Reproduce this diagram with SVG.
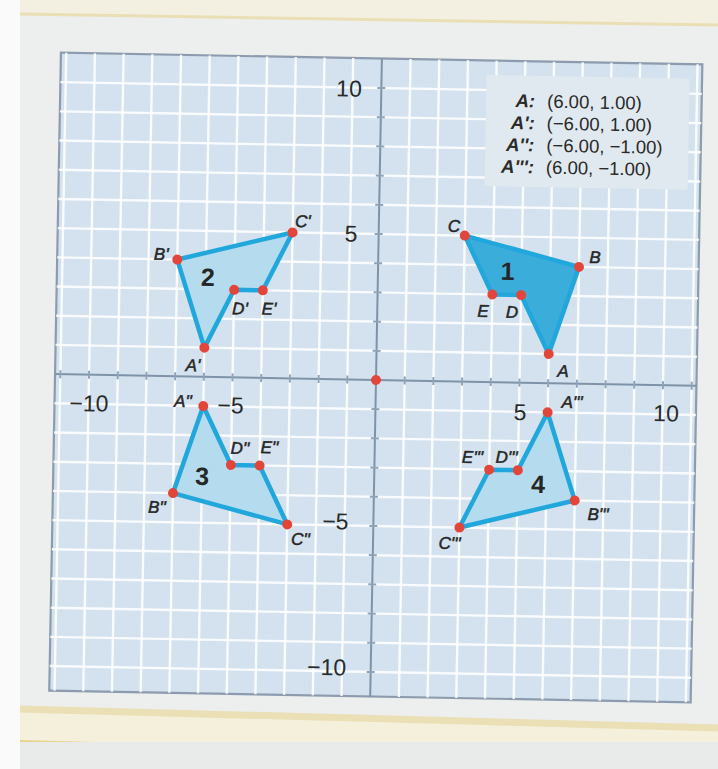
<svg xmlns="http://www.w3.org/2000/svg" width="718" height="769" viewBox="0 0 718 769">
<style>
.grid line{stroke:#ffffff;stroke-width:2.4;stroke-opacity:0.85}
.tick line{stroke:#8fa3b8;stroke-width:2}
.axis{stroke:#7f93a8;stroke-width:2}
.fig{stroke:#22a7dd;stroke-width:4.5;stroke-linejoin:round}
.light{fill:#b5dcee}
.dark{fill:#3badda}
.dot{fill:#e2463a}
.vl{font-family:"Liberation Sans",Arial,sans-serif;font-size:17px;font-style:italic;fill:#262626;stroke:#262626;stroke-width:0.5;text-anchor:middle}
.num{font-family:"Liberation Sans",Arial,sans-serif;font-size:25px;font-weight:bold;fill:#262626;text-anchor:middle}
.ax{font-family:"Liberation Sans",Arial,sans-serif;font-size:23px;fill:#2a2a2a;text-anchor:middle}
.lg{font-family:"Liberation Sans",Arial,sans-serif;font-size:18.5px;fill:#2a2a2a}
.lgb{font-weight:bold;font-style:italic;text-anchor:end}
</style>
<rect x="0" y="0" width="718" height="769" fill="#fafafa"/>
<rect x="20" y="0" width="698" height="769" fill="#edeeee"/>
<polygon points="20,0 718,0 718,24 20,13" fill="#f3f0e2"/>
<line x1="20" y1="14" x2="718" y2="25" stroke="#eadfb4" stroke-width="3"/>
<polygon points="20,708 718,727 718,760 20,741" fill="#f4f0dc"/>
<line x1="20" y1="709" x2="718" y2="728" stroke="#ebdfb5" stroke-width="7"/>
<line x1="20" y1="741" x2="718" y2="760" stroke="#e6d38e" stroke-width="2"/>
<rect x="20" y="742" width="698" height="27" fill="#e9eaea"/>
<g transform="translate(376 380) rotate(1.05)">
<rect x="-321" y="-321.5" width="641.5" height="638" fill="#d3e2ee" stroke="#8c9cae" stroke-width="2.2"/>
<g class="grid">
<line x1="-315.7" y1="-321.5" x2="-315.7" y2="316.5"/><line x1="-287" y1="-321.5" x2="-287" y2="316.5"/><line x1="-258.3" y1="-321.5" x2="-258.3" y2="316.5"/><line x1="-229.6" y1="-321.5" x2="-229.6" y2="316.5"/><line x1="-200.9" y1="-321.5" x2="-200.9" y2="316.5"/><line x1="-172.2" y1="-321.5" x2="-172.2" y2="316.5"/><line x1="-143.5" y1="-321.5" x2="-143.5" y2="316.5"/><line x1="-114.8" y1="-321.5" x2="-114.8" y2="316.5"/><line x1="-86.1" y1="-321.5" x2="-86.1" y2="316.5"/><line x1="-57.4" y1="-321.5" x2="-57.4" y2="316.5"/><line x1="-28.7" y1="-321.5" x2="-28.7" y2="316.5"/>
<line x1="28.7" y1="-321.5" x2="28.7" y2="316.5"/><line x1="57.4" y1="-321.5" x2="57.4" y2="316.5"/><line x1="86.1" y1="-321.5" x2="86.1" y2="316.5"/><line x1="114.8" y1="-321.5" x2="114.8" y2="316.5"/><line x1="143.5" y1="-321.5" x2="143.5" y2="316.5"/><line x1="172.2" y1="-321.5" x2="172.2" y2="316.5"/><line x1="200.9" y1="-321.5" x2="200.9" y2="316.5"/><line x1="229.6" y1="-321.5" x2="229.6" y2="316.5"/><line x1="258.3" y1="-321.5" x2="258.3" y2="316.5"/><line x1="287" y1="-321.5" x2="287" y2="316.5"/><line x1="315.7" y1="-321.5" x2="315.7" y2="316.5"/>
<line x1="-321" y1="-292" x2="320.5" y2="-292"/><line x1="-321" y1="-262.8" x2="320.5" y2="-262.8"/><line x1="-321" y1="-233.6" x2="320.5" y2="-233.6"/><line x1="-321" y1="-204.4" x2="320.5" y2="-204.4"/><line x1="-321" y1="-175.2" x2="320.5" y2="-175.2"/><line x1="-321" y1="-146" x2="320.5" y2="-146"/><line x1="-321" y1="-116.8" x2="320.5" y2="-116.8"/><line x1="-321" y1="-87.6" x2="320.5" y2="-87.6"/><line x1="-321" y1="-58.4" x2="320.5" y2="-58.4"/><line x1="-321" y1="-29.2" x2="320.5" y2="-29.2"/>
<line x1="-321" y1="29.2" x2="320.5" y2="29.2"/><line x1="-321" y1="58.4" x2="320.5" y2="58.4"/><line x1="-321" y1="87.6" x2="320.5" y2="87.6"/><line x1="-321" y1="116.8" x2="320.5" y2="116.8"/><line x1="-321" y1="146" x2="320.5" y2="146"/><line x1="-321" y1="175.2" x2="320.5" y2="175.2"/><line x1="-321" y1="204.4" x2="320.5" y2="204.4"/><line x1="-321" y1="233.6" x2="320.5" y2="233.6"/><line x1="-321" y1="262.8" x2="320.5" y2="262.8"/><line x1="-321" y1="292" x2="320.5" y2="292"/>
</g>
<rect id="legend-box" x="105" y="-307" width="203" height="111" fill="#e1e9f0"/>
<g id="axes">
<line class="axis" x1="-321" y1="0" x2="320.5" y2="0"/>
<line class="axis" x1="0" y1="-321.5" x2="0" y2="316.5"/>
<g class="tick">
<line x1="-315.7" y1="-4" x2="-315.7" y2="4"/><line x1="-287" y1="-4" x2="-287" y2="4"/><line x1="-258.3" y1="-4" x2="-258.3" y2="4"/><line x1="-229.6" y1="-4" x2="-229.6" y2="4"/><line x1="-200.9" y1="-4" x2="-200.9" y2="4"/><line x1="-172.2" y1="-4" x2="-172.2" y2="4"/><line x1="-143.5" y1="-4" x2="-143.5" y2="4"/><line x1="-114.8" y1="-4" x2="-114.8" y2="4"/><line x1="-86.1" y1="-4" x2="-86.1" y2="4"/><line x1="-57.4" y1="-4" x2="-57.4" y2="4"/><line x1="-28.7" y1="-4" x2="-28.7" y2="4"/>
<line x1="28.7" y1="-4" x2="28.7" y2="4"/><line x1="57.4" y1="-4" x2="57.4" y2="4"/><line x1="86.1" y1="-4" x2="86.1" y2="4"/><line x1="114.8" y1="-4" x2="114.8" y2="4"/><line x1="143.5" y1="-4" x2="143.5" y2="4"/><line x1="172.2" y1="-4" x2="172.2" y2="4"/><line x1="200.9" y1="-4" x2="200.9" y2="4"/><line x1="229.6" y1="-4" x2="229.6" y2="4"/><line x1="258.3" y1="-4" x2="258.3" y2="4"/><line x1="287" y1="-4" x2="287" y2="4"/><line x1="315.7" y1="-4" x2="315.7" y2="4"/>
<line x1="-4" y1="-292" x2="4" y2="-292"/><line x1="-4" y1="-262.8" x2="4" y2="-262.8"/><line x1="-4" y1="-233.6" x2="4" y2="-233.6"/><line x1="-4" y1="-204.4" x2="4" y2="-204.4"/><line x1="-4" y1="-175.2" x2="4" y2="-175.2"/><line x1="-4" y1="-146" x2="4" y2="-146"/><line x1="-4" y1="-116.8" x2="4" y2="-116.8"/><line x1="-4" y1="-87.6" x2="4" y2="-87.6"/><line x1="-4" y1="-58.4" x2="4" y2="-58.4"/><line x1="-4" y1="-29.2" x2="4" y2="-29.2"/>
<line x1="-4" y1="29.2" x2="4" y2="29.2"/><line x1="-4" y1="58.4" x2="4" y2="58.4"/><line x1="-4" y1="87.6" x2="4" y2="87.6"/><line x1="-4" y1="116.8" x2="4" y2="116.8"/><line x1="-4" y1="146" x2="4" y2="146"/><line x1="-4" y1="175.2" x2="4" y2="175.2"/><line x1="-4" y1="204.4" x2="4" y2="204.4"/><line x1="-4" y1="233.6" x2="4" y2="233.6"/><line x1="-4" y1="262.8" x2="4" y2="262.8"/><line x1="-4" y1="292" x2="4" y2="292"/>
</g>
<text class="ax" x="-32.3" y="-283">10</text>
<text class="ax" x="-27.7" y="-138">5</text>
<text class="ax" x="-38" y="150">−5</text>
<text class="ax" x="-44" y="296">−10</text>
<text class="ax" x="-286.6" y="36.5">−10</text>
<text class="ax" x="-145" y="36">−5</text>
<text class="ax" x="144.6" y="37.5">5</text>
<text class="ax" x="290.6" y="36">10</text>
<circle class="dot" cx="0" cy="0" r="5"/>
</g>
<g id="figure1">
<polygon class="fig dark" points="172.2,-29.2 200.9,-116.8 86.1,-146 114.8,-87.6 143.5,-87.6"/>
<circle class="dot" cx="172.2" cy="-29.2" r="5"/><circle class="dot" cx="200.9" cy="-116.8" r="5"/><circle class="dot" cx="86.1" cy="-146" r="5"/><circle class="dot" cx="114.8" cy="-87.6" r="5"/><circle class="dot" cx="143.5" cy="-87.6" r="5"/>
<text class="vl" x="75.2" y="-149.5">C</text><text class="vl" x="216.8" y="-121">B</text><text class="vl" x="105.7" y="-65">E</text><text class="vl" x="134.8" y="-64.5">D</text><text class="vl" x="186.8" y="-6.5">A</text>
<text class="num" x="129.5" y="-102.5">1</text>
</g>
<g id="figure2">
<polygon class="fig light" points="-172.2,-29.2 -200.9,-116.8 -86.1,-146 -114.8,-87.6 -143.5,-87.6"/>
<circle class="dot" cx="-172.2" cy="-29.2" r="5"/><circle class="dot" cx="-200.9" cy="-116.8" r="5"/><circle class="dot" cx="-86.1" cy="-146" r="5"/><circle class="dot" cx="-114.8" cy="-87.6" r="5"/><circle class="dot" cx="-143.5" cy="-87.6" r="5"/>
<text class="vl" x="-76" y="-151.6">C'</text><text class="vl" x="-217" y="-116.1">B'</text><text class="vl" x="-137.3" y="-63">D'</text><text class="vl" x="-108.3" y="-63.5">E'</text><text class="vl" x="-183.3" y="-5.6">A'</text>
<text class="num" x="-169.9" y="-91">2</text>
</g>
<g id="figure3">
<polygon class="fig light" points="-172.2,29.2 -200.9,116.8 -86.1,146 -114.8,87.6 -143.5,87.6"/>
<circle class="dot" cx="-172.2" cy="29.2" r="5"/><circle class="dot" cx="-200.9" cy="116.8" r="5"/><circle class="dot" cx="-86.1" cy="146" r="5"/><circle class="dot" cx="-114.8" cy="87.6" r="5"/><circle class="dot" cx="-143.5" cy="87.6" r="5"/>
<text class="vl" x="-192.6" y="30.5">A''</text><text class="vl" x="-134.8" y="76.5">D''</text><text class="vl" x="-105.3" y="75">E''</text><text class="vl" x="-216.7" y="137">B''</text><text class="vl" x="-72.6" y="166.4">C''</text>
<text class="num" x="-172.2" y="108">3</text>
</g>
<g id="figure4">
<polygon class="fig light" points="172.2,29.2 200.9,116.8 86.1,146 114.8,87.6 143.5,87.6"/>
<circle class="dot" cx="172.2" cy="29.2" r="5"/><circle class="dot" cx="200.9" cy="116.8" r="5"/><circle class="dot" cx="86.1" cy="146" r="5"/><circle class="dot" cx="114.8" cy="87.6" r="5"/><circle class="dot" cx="143.5" cy="87.6" r="5"/>
<text class="vl" x="196.4" y="24.4">A'''</text><text class="vl" x="97.9" y="81.2">E'''</text><text class="vl" x="131.9" y="80.6">D'''</text><text class="vl" x="224.5" y="136">B'''</text><text class="vl" x="76.5" y="167.7">C'''</text>
<text class="num" x="163.9" y="110">4</text>
</g>
<g id="legend">
<text class="lg lgb" x="154" y="-275.4">A:</text><text class="lg" x="166" y="-275.4">(6.00, 1.00)</text>
<text class="lg lgb" x="154" y="-253.4">A':</text><text class="lg" x="166" y="-253.4">(−6.00, 1.00)</text>
<text class="lg lgb" x="154" y="-231.4">A'':</text><text class="lg" x="166" y="-231.4">(−6.00, −1.00)</text>
<text class="lg lgb" x="154" y="-209.4">A''':</text><text class="lg" x="166" y="-209.4">(6.00, −1.00)</text>
</g>
</g>
</svg>
